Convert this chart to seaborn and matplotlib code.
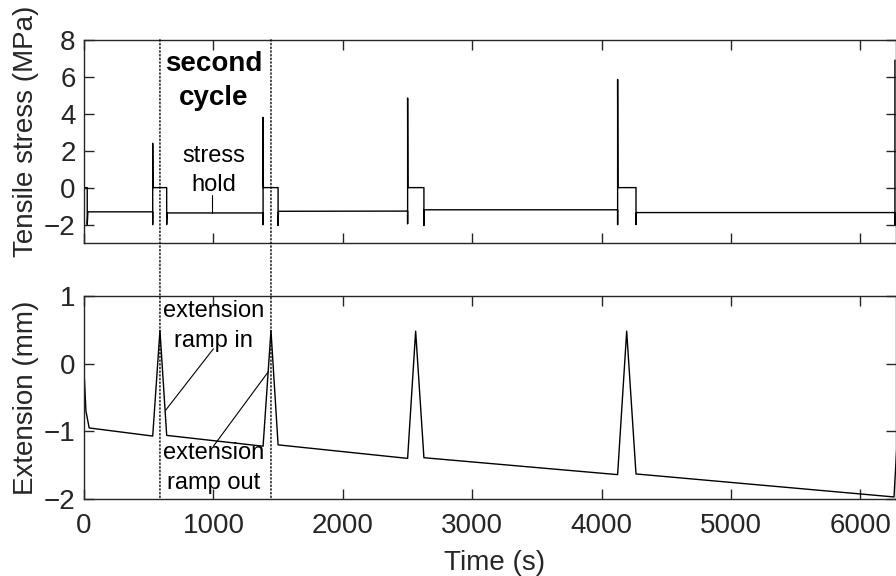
import matplotlib
matplotlib.use("Agg")
import matplotlib.pyplot as plt
from matplotlib.patches import ConnectionPatch
import pandas as pd
import seaborn as sns

sns.set_style("ticks")
plt.rcParams["font.family"] = ["Liberation Sans", "DejaVu Sans"]
plt.rcParams["axes.edgecolor"] = "#262626"
plt.rcParams["xtick.color"] = "#262626"
plt.rcParams["ytick.color"] = "#262626"
plt.rcParams["text.color"] = "black"
plt.rcParams["axes.labelcolor"] = "#262626"

# tensile stress trace (s, MPa)
stress_time = [0, 25, 25, 30, 531, 531, 531, 533, 639, 639, 642,
               1384, 1384, 1384, 1386, 1500, 1500, 1503,
               2501, 2501, 2501, 2503, 2627, 2627, 2630,
               4124, 4124, 4124, 4126, 4266, 4266, 4269,
               6267, 6267, 6267]
stress_val = [0, 0, -2.0, -1.31, -1.31, -2.0, 2.4, 0, 0, -2.0, -1.37,
              -1.37, -2.0, 3.8, 0, 0, -2.05, -1.28,
              -1.27, -1.95, 4.85, 0, 0, -2.05, -1.2,
              -1.2, -2.0, 5.85, 0, 0, -2.0, -1.35,
              -1.35, -2.0, 6.9]

# extension trace (s, mm)
ext_time = [0, 15, 40, 531, 587, 639, 1384, 1445, 1500,
            2501, 2563, 2627, 4124, 4194, 4266, 6260, 6300]
ext_val = [-0.1, -0.7, -0.95, -1.07, 0.49, -1.06, -1.22, 0.49, -1.2,
           -1.40, 0.48, -1.39, -1.64, 0.48, -1.63, -1.97, -0.6]

# peaks of the second cycle (dotted markers)
cycle_bounds = [587, 1445]

stress = pd.DataFrame({"Time": stress_time, "Stress": stress_val})
ext = pd.DataFrame({"Time": ext_time, "Extension": ext_val})

fig = plt.figure(figsize=(8.96, 5.76), dpi=100)
ax1 = fig.add_axes([0.09375, 0.578, 0.9062, 0.353])
ax2 = fig.add_axes([0.09375, 0.1337, 0.9062, 0.3524])

sns.lineplot(data=stress, x="Time", y="Stress", sort=False, estimator=None,
             color="black", linewidth=1.0, ax=ax1)
sns.lineplot(data=ext, x="Time", y="Extension", sort=False, estimator=None,
             color="black", linewidth=1.0, ax=ax2)

fs = 20
for ax in (ax1, ax2):
    ax.set_xlim(0, 6275)
    ax.set_xticks([0, 1000, 2000, 3000, 4000, 5000, 6000])
    ax.tick_params(direction="in", length=7, width=1, top=True, right=True,
                   labelsize=fs)
    ax.tick_params(axis="y", pad=6)
    ax.tick_params(axis="x", pad=10)
    for s in ax.spines.values():
        s.set_linewidth(1.0)

ax1.set_ylim(-3, 8)
ax1.set_yticks([-2, 0, 2, 4, 6, 8])
ax1.set_xticklabels([])
ax1.set_xlabel("")
ax1.set_ylabel("Tensile stress (MPa)", fontsize=fs)
ax1.yaxis.set_label_coords(-0.056, 0.55)

ax2.set_ylim(-2, 1)
ax2.set_yticks([-2, -1, 0, 1])
ax2.set_xlabel("Time (s)", fontsize=fs)
ax2.set_ylabel("Extension (mm)", fontsize=fs)
ax2.yaxis.set_label_coords(-0.056, 0.5)
ax2.xaxis.set_label_coords(0.506, -0.25)

# dotted lines marking the second cycle, through both panels
for t in cycle_bounds:
    con = ConnectionPatch(xyA=(t, 8), coordsA=ax1.transData,
                          xyB=(t, -2), coordsB=ax2.transData,
                          linestyle=":", color="black", linewidth=1.0)
    fig.add_artist(con)

# annotations
ax1.text(1000, 5.75, "second\ncycle", fontsize=fs, fontweight="bold",
         ha="center", va="center", linespacing=1.4)
ax1.text(1000, 0.92, "stress\nhold", fontsize=17, ha="center", va="center",
         linespacing=1.4)
ax1.plot([987, 987], [-0.38, -1.35], color="black", linewidth=0.8)

ax2.text(1000, 0.56, "extension\nramp in", fontsize=17, ha="center",
         va="center", linespacing=1.45)
ax2.plot([1000, 630], [0.22, -0.69], color="black", linewidth=0.8)
ax2.text(1000, -1.54, "extension\nramp out", fontsize=17, ha="center",
         va="center", linespacing=1.45)
ax2.plot([1000, 1424], [-1.22, -0.12], color="black", linewidth=0.8)

plt.savefig("out.png", dpi=100)
